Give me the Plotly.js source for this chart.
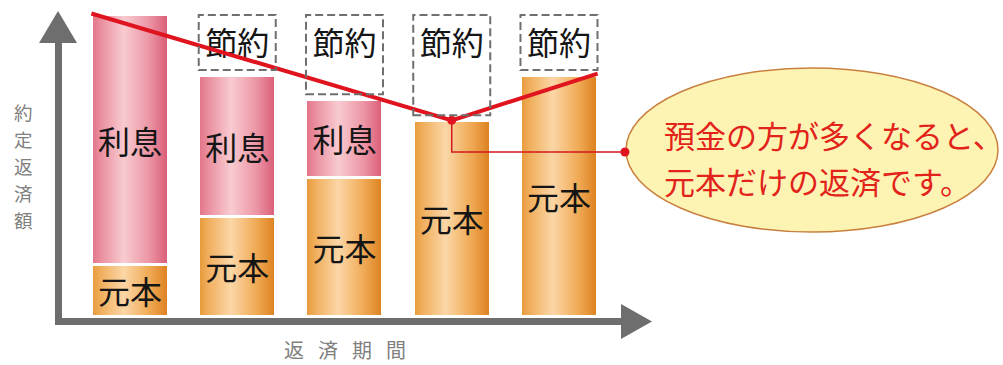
<!DOCTYPE html>
<html>
<head>
<meta charset="utf-8">
<script src="https://cdn.plot.ly/plotly-3.0.1.min.js"></script>
<style>html,body{margin:0;padding:0;background:#fff;}#chart{width:1003px;height:365px;}</style>
</head>
<body>
<div id="chart"></div>
<script>
// ---- data ----
const periods   = [0, 1, 2, 3, 4];
const principal = [17, 33, 46, 65, 80];   // 元本
const interest  = [83, 47, 26, 0, 0];     // 利息
const savings   = [0, 20, 28, 35, 20];    // 節約
const segLabels = ['元本', '利息', '節約'];
const lineX = [-0.36, 3, 4.36];           // 返済額ライン
const lineY = [100.5, 65, 80.5];
const connX = [3, 3, 4.615];              // 吹き出し引き出し線
const connY = [65, 54.5, 54.5];
const calloutLines = ['預金の方が多くなると、', '元本だけの返済です。'];
const yTitle = '約定返済額';
const xTitle = '返済期間';

// ---- styling ----
const W = 1003, H = 365;
const FONT = '"Noto Sans CJK JP", "Noto Sans", sans-serif';
const barGap = 0.282;
const bw = 1 - barGap;
const gapUnits = 1.7;
const px = x => x / W;
const py = y => 1 - y / H;

function lbl(arr, name){ return arr.map(v => v > 0 ? name : ''); }

const barText = {family: FONT, size: 32, color: '#151515'};

const traces = [
  {type: 'bar', x: periods, y: principal, name: segLabels[0],
   marker: {color: '#efa657', line: {color: '#ffffff', width: 3}},
   text: lbl(principal, segLabels[0]), textposition: 'inside', insidetextanchor: 'middle',
   constraintext: 'none', textangle: 0, textfont: barText, hoverinfo: 'skip'},
  {type: 'bar', x: periods, y: interest, name: segLabels[1],
   marker: {color: '#ec97a6', line: {color: '#ffffff', width: 3}},
   text: lbl(interest, segLabels[1]), textposition: 'inside', insidetextanchor: 'middle',
   constraintext: 'none', textangle: 0, textfont: barText, hoverinfo: 'skip'},
  {type: 'bar', x: periods, y: savings, name: segLabels[2],
   marker: {color: 'rgba(0,0,0,0)', line: {width: 0}},
   text: lbl(savings, segLabels[2]), textposition: 'inside', insidetextanchor: 'end',
   constraintext: 'none', textangle: 0, textfont: barText, hoverinfo: 'skip'},
  {type: 'scatter', mode: 'lines', x: connX, y: connY, cliponaxis: false,
   line: {color: '#d11a1f', width: 1.5}, hoverinfo: 'skip'},
  {type: 'scatter', mode: 'lines', x: lineX, y: lineY, cliponaxis: false,
   line: {color: '#e0141e', width: 4}, hoverinfo: 'skip'},
  {type: 'scatter', mode: 'markers', x: [connX[0], connX[connX.length-1]], y: [connY[0], connY[connY.length-1]],
   cliponaxis: false, marker: {color: '#e0141e', size: 9}, hoverinfo: 'skip'}
];

// dashed boxes for 節約 built from the data
const shapes = [];
periods.forEach((p, i) => {
  if (savings[i] > 0) {
    const base = principal[i] + interest[i];
    shapes.push({type: 'rect', xref: 'x', yref: 'y', layer: 'above',
      x0: p - bw / 2, x1: p + bw / 2, y0: base + gapUnits, y1: base + savings[i],
      line: {color: '#6f6f6f', width: 2, dash: '8px,4px'}, fillcolor: 'rgba(0,0,0,0)'});
  }
});

// axis arrows (decoration)
const axisGray = '#6e6e6e';
shapes.push({type: 'line', xref: 'paper', yref: 'paper', x0: px(58.5), x1: px(58.5), y0: py(325), y1: py(40),
  line: {color: axisGray, width: 7}, layer: 'below'});
shapes.push({type: 'line', xref: 'paper', yref: 'paper', x0: px(55), x1: px(624), y0: py(321.5), y1: py(321.5),
  line: {color: axisGray, width: 7}, layer: 'below'});
shapes.push({type: 'path', xref: 'paper', yref: 'paper', fillcolor: axisGray, line: {width: 0},
  path: `M ${px(39)} ${py(43)} L ${px(77)} ${py(43)} L ${px(58)} ${py(11)} Z`});
shapes.push({type: 'path', xref: 'paper', yref: 'paper', fillcolor: axisGray, line: {width: 0},
  path: `M ${px(621)} ${py(304)} L ${px(621)} ${py(339)} L ${px(652)} ${py(321.5)} Z`});

// callout ellipse
shapes.push({type: 'circle', xref: 'paper', yref: 'paper', layer: 'below',
  x0: px(626), x1: px(998), y0: py(232), y1: py(68),
  fillcolor: '#fdf4b4', line: {color: '#c9803f', width: 1.5}});

const annotations = [];
// vertical y title, one character per line
yTitle.split('').forEach((ch, k) => {
  annotations.push({xref: 'paper', yref: 'paper', x: px(23), y: py(112 + 27 * k),
    xanchor: 'center', yanchor: 'middle', text: ch, showarrow: false, borderpad: 0,
    font: {family: FONT, size: 18.5, color: '#808080'}});
});
annotations.push({xref: 'paper', yref: 'paper', x: px(345), y: py(349), xanchor: 'center', yanchor: 'middle',
  text: xTitle.split('').join('\u2002\u2009'), showarrow: false, borderpad: 0,
  font: {family: FONT, size: 20, color: '#808080'}});
calloutLines.forEach((t, k) => {
  annotations.push({xref: 'paper', yref: 'paper', x: px(662), y: py(135 + 45 * k), xanchor: 'left', yanchor: 'middle',
    text: t, showarrow: false, font: {family: FONT, size: 31, color: '#e2231a'}});
});

const layout = {
  width: W, height: H, margin: {l: 0, r: 0, t: 0, b: 0},
  paper_bgcolor: '#ffffff', plot_bgcolor: 'rgba(0,0,0,0)',
  barmode: 'stack', bargap: barGap, showlegend: false,
  xaxis: {range: [-1.212, 8.14], visible: false, fixedrange: true},
  yaxis: {range: [-16.28, 104.98], visible: false, fixedrange: true},
  shapes: shapes, annotations: annotations
};

// horizontal gradients for the bar segments (applied to the library-drawn bars)
const gradients = {
  gOrange: [[0, '#e79838'], [0.12, '#f0ae5c'], [0.42, '#fbd6a6'], [0.75, '#f0aa55'], [1, '#dc7f1e']],
  gPink:   [[0, '#e27287'], [0.12, '#ea8e9f'], [0.42, '#f8cbd0'], [0.75, '#ec95a5'], [1, '#d95a74']]
};

Plotly.newPlot('chart', traces, layout, {staticPlot: true, displayModeBar: false}).then(gd => {
  const svg = gd.querySelector('svg.main-svg');
  const NS = 'http://www.w3.org/2000/svg';
  let defs = svg.querySelector('defs');
  if (!defs) { defs = document.createElementNS(NS, 'defs'); svg.insertBefore(defs, svg.firstChild); }
  Object.keys(gradients).forEach(id => {
    const g = document.createElementNS(NS, 'linearGradient');
    g.setAttribute('id', id);
    g.setAttribute('x1', '0'); g.setAttribute('y1', '0'); g.setAttribute('x2', '1'); g.setAttribute('y2', '0');
    gradients[id].forEach(([o, c]) => {
      const s = document.createElementNS(NS, 'stop');
      s.setAttribute('offset', o); s.setAttribute('stop-color', c);
      g.appendChild(s);
    });
    defs.appendChild(g);
  });
  const groups = gd.querySelectorAll('.barlayer .trace.bars');
  const fills = ['url(#gOrange)', 'url(#gPink)'];
  fills.forEach((f, i) => {
    if (!groups[i]) return;
    groups[i].querySelectorAll('.point path').forEach(p => { p.style.fill = f; });
  });
});
</script>
</body>
</html>
